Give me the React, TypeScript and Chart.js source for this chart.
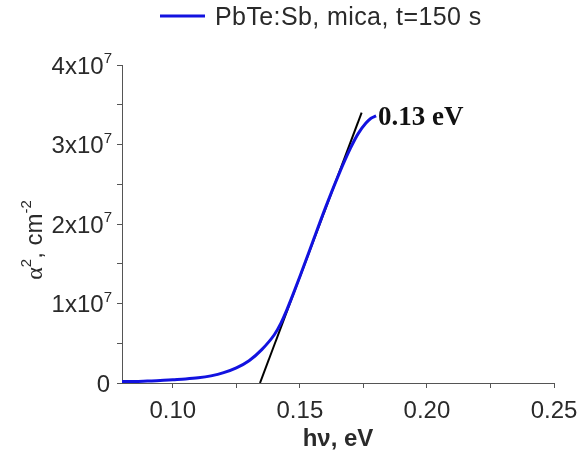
import React, { useEffect, useRef } from "react";
import { Chart, registerables } from "chart.js";

Chart.register(...registerables);

// Photon energy (eV) and absorption coefficient squared (cm^-2)
const hv = [0.08, 0.085, 0.09, 0.095, 0.1, 0.105, 0.11, 0.115, 0.12, 0.125, 0.13, 0.135, 0.14, 0.1425, 0.145, 0.1475, 0.15, 0.155, 0.16, 0.165, 0.17, 0.173, 0.176, 0.178, 0.18];
const alpha2 = [2.0e5, 2.0e5, 2.5e5, 3.0e5, 4.0e5, 5.0e5, 6.5e5, 9.0e5, 1.3e6, 1.9e6, 2.8e6, 4.2e6, 6.1e6, 7.5e6, 9.3e6, 1.13e7, 1.34e7, 1.77e7, 2.2e7, 2.6e7, 2.96e7, 3.14e7, 3.27e7, 3.33e7, 3.36e7];

// Linear extrapolation (tangent) giving the gap
const fitHv = [0.1343, 0.1743];
const fitAlpha2 = [0, 3.4e7];

const seriesLabel = "PbTe:Sb, mica, t=150 s";
const gapLabel = "0.13 eV";
const gapAnchor = [0.18, 3.36e7];

const xMajorTicks = [0.1, 0.15, 0.2, 0.25];
const xTickLabels = ["0.10", "0.15", "0.20", "0.25"];
const xMinorTicks = [0.125, 0.175, 0.225];
const yMajorTicks = [0, 1e7, 2e7, 3e7, 4e7];
const yTickMantissa = ["0", "1", "2", "3", "4"];
const yTickExponent = "7";
const yMinorTicks = [0.5e7, 1.5e7, 2.5e7, 3.5e7];

const BLUE = "#1212e0";
const AXIS = "#555555";
const TEXT = "#2a2a2a";
const SANS = '"Liberation Sans", Arial, sans-serif';
const SERIF = '"Liberation Serif", "Times New Roman", serif';

const textPlugin = {
  id: "customText",
  afterDraw(chart: any) {
    const { ctx } = chart;
    const xs = chart.scales.x;
    const ys = chart.scales.y;
    ctx.save();
    ctx.fillStyle = TEXT;

    // Legend
    ctx.strokeStyle = BLUE;
    ctx.lineWidth = 3;
    ctx.beginPath();
    ctx.moveTo(160, 16);
    ctx.lineTo(205, 16);
    ctx.stroke();
    ctx.font = `25px ${SANS}`;
    ctx.textAlign = "left";
    ctx.textBaseline = "alphabetic";
    (ctx as any).letterSpacing = "0.4px";
    ctx.fillText(seriesLabel, 215, 25);
    (ctx as any).letterSpacing = "0px";

    // Y tick labels
    yMajorTicks.forEach((v, i) => {
      const py = ys.getPixelForValue(v);
      const right = xs.left - 10;
      const m = yTickMantissa[i];
      if (m === "0") {
        ctx.font = `24px ${SANS}`;
        ctx.textAlign = "right";
        ctx.fillText("0", right - 2, py + 8.5);
      } else {
        ctx.font = `15px ${SANS}`;
        const supW = ctx.measureText(yTickExponent).width;
        ctx.font = `24px ${SANS}`;
        const base = m + "x10";
        const baseW = ctx.measureText(base).width;
        ctx.textAlign = "left";
        ctx.fillText(base, right - supW - baseW, py + 8.5);
        ctx.font = `15px ${SANS}`;
        ctx.fillText(yTickExponent, right - supW, py - 2);
      }
    });

    // X tick labels
    ctx.font = `24px ${SANS}`;
    ctx.textAlign = "center";
    xMajorTicks.forEach((v, i) => {
      ctx.fillText(xTickLabels[i], xs.getPixelForValue(v), 418);
    });

    // X title
    ctx.font = `bold 24px ${SANS}`;
    ctx.fillText("h\u03bd, eV", (xs.left + xs.right) / 2, 446);

    // Y title (rotated)
    ctx.save();
    ctx.translate(42, 240);
    ctx.rotate(-Math.PI / 2);
    const parts: [string, string, number][] = [
      ["\u03b1", `24px ${SERIF}`, 0],
      ["2", `15px ${SANS}`, -11],
      [", cm", `24px ${SANS}`, 0],
      ["-2", `15px ${SANS}`, -11],
    ];
    let total = 0;
    parts.forEach(([t, f]) => {
      ctx.font = f;
      total += ctx.measureText(t).width;
    });
    let cx = -total / 2;
    ctx.textAlign = "left";
    parts.forEach(([t, f, dy]) => {
      ctx.font = f;
      ctx.fillText(t, cx, dy);
      cx += ctx.measureText(t).width;
    });
    ctx.restore();

    // Gap annotation
    ctx.fillStyle = "#111111";
    ctx.font = `bold 27px ${SERIF}`;
    ctx.textAlign = "left";
    ctx.fillText(gapLabel, xs.getPixelForValue(gapAnchor[0]) + 2, ys.getPixelForValue(gapAnchor[1]) + 9);

    ctx.restore();
  },
};

export default function App() {
  const ref = useRef<HTMLCanvasElement | null>(null);

  useEffect(() => {
    document.body.style.margin = "0";
    if (!ref.current) return;
    const chart = new Chart(ref.current, {
      type: "scatter",
      data: {
        datasets: [
          {
            label: seriesLabel,
            data: hv.map((x, i) => ({ x, y: alpha2[i] })),
            showLine: true,
            borderColor: BLUE,
            borderWidth: 3,
            pointRadius: 0,
            cubicInterpolationMode: "monotone",
          },
          {
            label: "fit",
            data: fitHv.map((x, i) => ({ x, y: fitAlpha2[i] })),
            showLine: true,
            borderColor: "#000000",
            borderWidth: 2,
            pointRadius: 0,
          },
        ],
      },
      options: {
        animation: false,
        responsive: true,
        maintainAspectRatio: false,
        layout: { padding: { top: 65, right: 24, left: 0, bottom: 0 } },
        plugins: {
          legend: { display: false },
          tooltip: { enabled: false },
        },
        scales: {
          x: {
            type: "linear",
            min: 0.08,
            max: 0.25,
            afterBuildTicks: (s: any) => {
              s.ticks = [...xMajorTicks, ...xMinorTicks].sort((a, b) => a - b).map((value) => ({ value }));
            },
            afterFit: (s: any) => {
              s.height = 67;
              s.paddingLeft = 0;
              s.paddingRight = 0;
            },
            ticks: { callback: () => "", font: { size: 1 } },
            grid: { drawOnChartArea: false, drawTicks: true, tickLength: 5, color: AXIS, lineWidth: 1 },
            border: { display: true, color: AXIS, width: 1 },
          },
          y: {
            type: "linear",
            min: 0,
            max: 4e7,
            afterBuildTicks: (s: any) => {
              s.ticks = [...yMajorTicks, ...yMinorTicks].sort((a, b) => a - b).map((value) => ({ value }));
            },
            afterFit: (s: any) => {
              s.width = 122;
              s.paddingTop = 0;
              s.paddingBottom = 0;
            },
            ticks: { callback: () => "", font: { size: 1 } },
            grid: { drawOnChartArea: false, drawTicks: true, tickLength: 5, color: AXIS, lineWidth: 1 },
            border: { display: true, color: AXIS, width: 1 },
          },
        },
      },
      plugins: [textPlugin],
    });
    return () => chart.destroy();
  }, []);

  return (
    <div style={{ width: 578, height: 450, position: "relative", background: "#fff" }}>
      <canvas ref={ref} />
    </div>
  );
}
